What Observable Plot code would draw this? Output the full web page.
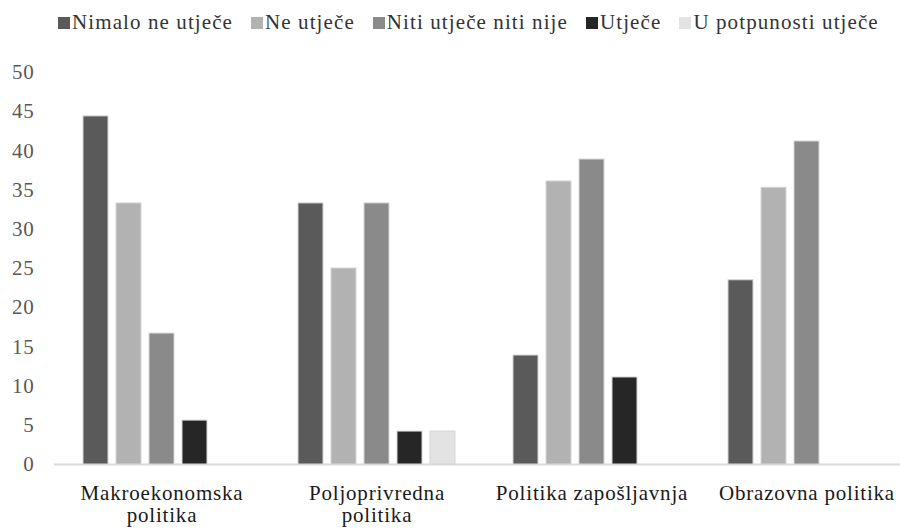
<!DOCTYPE html>
<html>
<head>
<meta charset="utf-8">
<script src="https://cdn.jsdelivr.net/npm/d3@7"></script>
<script src="https://cdn.jsdelivr.net/npm/@observablehq/plot@0.6"></script>
<style>
  html, body { margin: 0; padding: 0; background: #fff; font-family: "Liberation Serif", "DejaVu Serif", "Times New Roman", serif; }
  #legend { display: flex; align-items: center; height: 45px; padding-left: 58px; box-sizing: border-box;
    font-size: 21px; color: #333; white-space: nowrap; letter-spacing: 1.1px; }
  .item { display: flex; align-items: center; margin-right: 18px; }
  .sw { width: 12px; height: 12px; margin-right: 2px; display: inline-block; }
  #chart svg { display: block; }
</style>
</head>
<body>
<div id="legend"></div>
<div id="chart"></div>
<script>
const categories = ["Makroekonomska politika", "Poljoprivredna politika", "Politika zapošljavnja", "Obrazovna politika"];
const categoryLabels = ["Makroekonomska\npolitika", "Poljoprivredna\npolitika", "Politika zapošljavnja", "Obrazovna politika"];
const series = ["Nimalo ne utječe", "Ne utječe", "Niti utječe niti nije", "Utječe", "U potpunosti utječe"];
const nimaloNeUtjece = [44.4, 33.3, 13.9, 23.5];
const neUtjece = [33.3, 25.0, 36.1, 35.3];
const nitiUtjeceNitiNije = [16.7, 33.3, 38.9, 41.2];
const utjece = [5.6, 4.2, 11.1, 0];
const uPotpunostiUtjece = [0, 4.2, 0, 0];
const yTicks = [0, 5, 10, 15, 20, 25, 30, 35, 40, 45, 50];
const colors = ["#5a5a5a", "#b2b2b2", "#8a8a8a", "#262626", "#e3e3e3"];

const seriesValues = [nimaloNeUtjece, neUtjece, nitiUtjeceNitiNije, utjece, uPotpunostiUtjece];
const data = [];
categories.forEach((c, i) => series.forEach((s, j) => {
  const v = seriesValues[j][i];
  if (v > 0) data.push({category: c, series: s, value: v});
}));

const legend = document.getElementById("legend");
series.forEach((s, j) => {
  const it = document.createElement("span");
  it.className = "item";
  it.innerHTML = `<span class="sw" style="background:${colors[j]}"></span><span>${s}</span>`;
  legend.appendChild(it);
});

const labelMap = new Map(categories.map((c, i) => [c, categoryLabels[i]]));
const FONT = "'Liberation Serif', 'DejaVu Serif', 'Times New Roman', serif";

const chart = Plot.plot({
  width: 900,
  height: 485,
  marginLeft: 53,
  marginRight: -15,
  marginTop: 27,
  marginBottom: 66,
  style: {fontFamily: FONT, fontSize: "21px", background: "#fff", letterSpacing: "0.8px"},
  fx: {domain: categories, padding: 0, label: null, axis: null},
  x: {domain: series, paddingInner: 0.24, paddingOuter: 0.87, axis: null},
  y: {domain: [0, 50], axis: null},
  color: {domain: series, range: colors},
  marks: [
    Plot.axisY({ticks: yTicks, tickSize: 0, tickPadding: 20, fill: "#595959", label: null, fontSize: 21, fontFamily: FONT}),
    Plot.axisFx({anchor: "bottom", tickSize: 0, tickPadding: 20, tickFormat: d => labelMap.get(d), lineHeight: 1.05, fill: "#1a1a1a", label: null, fontSize: 21, fontFamily: FONT}),
    Plot.ruleY([0], {stroke: "#d9d9d9", strokeWidth: 2}),
    Plot.barY(data, {fx: "category", x: "series", y: "value", fill: "series", stroke: "#d6d6d6", strokeWidth: 1})
  ]
});
document.getElementById("chart").appendChild(chart);
</script>
</body>
</html>
